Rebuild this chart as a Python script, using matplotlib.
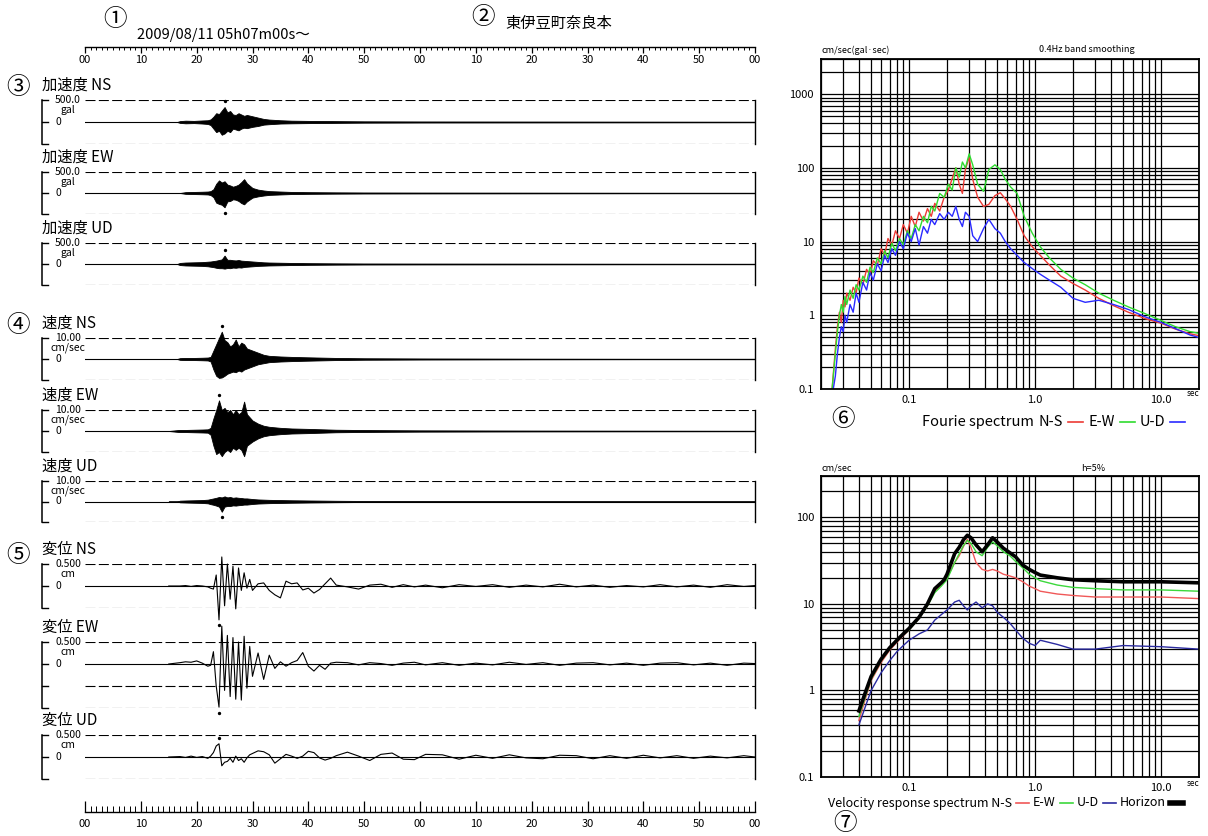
import numpy as np
import matplotlib.pyplot as plt
import matplotlib.transforms as mtransforms
from matplotlib.lines import Line2D
from matplotlib.ticker import FixedLocator, FixedFormatter, NullFormatter, LogLocator

# =========================================
# 1. Values
# =========================================
# time ruler (two minutes, labelled by second of the minute)
ruler_sec = [0, 10, 20, 30, 40, 50, 60, 70, 80, 90, 100, 110, 120]
ruler_labels = ["00", "10", "20", "30", "40", "50", "00", "10", "20", "30", "40", "50", "00"]

# envelope knots (s) for acceleration / velocity traces
env_t = [15, 16.5, 17, 18, 19.5, 21, 22, 22.5, 23, 23.5, 24, 24.5, 25, 25.5, 26, 26.5, 27,
         27.5, 28, 28.5, 29, 30, 31, 32, 33, 35, 37, 40, 45, 50, 60, 80, 100, 120]

# acceleration (gal), upper / lower envelope
acc_ns_hi = [0, 0, 20, 30, 25, 35, 40, 60, 120, 200, 180, 260, 340, 220, 250, 170, 160, 200, 170, 140,
             160, 130, 100, 70, 55, 40, 30, 25, 20, 15, 12, 10, 8, 6]
acc_ns_lo = [0, 0, -20, -30, -25, -35, -45, -70, -150, -230, -200, -290, -260, -200, -230, -150, -170, -190, -150, -130,
             -140, -110, -90, -60, -50, -35, -30, -25, -20, -15, -12, -10, -8, -6]
acc_ew_hi = [0, 0, 0, 20, 25, 30, 35, 45, 90, 220, 300, 250, 280, 200, 180, 150, 170, 200, 260, 330,
             230, 120, 80, 60, 45, 35, 25, 20, 15, 12, 10, 8, 6, 5]
acc_ew_lo = [0, 0, 0, -20, -25, -30, -35, -50, -100, -230, -260, -280, -340, -200, -190, -150, -160, -190, -240, -270,
             -200, -110, -80, -60, -45, -35, -25, -20, -15, -12, -10, -8, -6, -5]
acc_ud_hi = [0, 0, 25, 35, 40, 45, 55, 60, 70, 80, 95, 110, 200, 100, 100, 90, 85, 95, 80, 75,
             70, 60, 50, 40, 35, 30, 25, 20, 15, 12, 10, 8, 6, 5]
acc_ud_lo = [0, 0, -25, -35, -40, -45, -55, -65, -75, -90, -100, -100, -110, -95, -100, -85, -90, -80, -85, -70,
             -65, -55, -45, -40, -35, -30, -25, -20, -15, -12, -10, -8, -6, -5]

# velocity (cm/sec), upper / lower envelope
vel_ns_hi = [0, 0, 0.4, 0.5, 0.5, 0.6, 0.7, 1.0, 4, 7, 10, 13, 9, 8, 6, 7, 9.3, 6, 7.8, 7,
             5, 4, 3, 2, 1.5, 1.2, 1.0, 0.8, 0.5, 0.35, 0.25, 0.15, 0.1, 0.1]
vel_ns_lo = [0, 0, -0.4, -0.5, -0.5, -0.6, -0.7, -1.2, -5, -8, -9, -8.8, -8, -7, -6.5, -6, -6.3, -5.5, -6, -5,
             -4.5, -3.5, -2.5, -2, -1.5, -1.2, -1, -0.8, -0.5, -0.35, -0.25, -0.15, -0.1, -0.1]
vel_ew_hi = [0, 0.4, 0.5, 0.5, 0.6, 0.7, 0.8, 1.5, 6, 10, 14.6, 10, 11, 9, 10, 8, 10, 8, 9, 14,
             8, 5, 3.5, 2.5, 2, 1.5, 1.2, 1.0, 0.6, 0.45, 0.3, 0.2, 0.15, 0.1]
vel_ew_lo = [0, -0.4, -0.5, -0.5, -0.6, -0.7, -0.8, -1.8, -7, -11, -10, -12, -10, -9, -10, -8, -9, -8, -9, -12,
             -7, -5, -3.5, -2.5, -2, -1.5, -1.2, -1, -0.6, -0.45, -0.3, -0.2, -0.15, -0.1]
vel_ud_hi = [0, 0, 0.4, 0.5, 0.6, 0.7, 0.9, 1.2, 1.5, 1.8, 2.2, 2.0, 2.5, 2.0, 2.2, 1.8, 2.0, 1.8, 1.7, 1.5,
             1.5, 1.2, 1.0, 0.9, 0.8, 0.7, 0.6, 0.5, 0.35, 0.25, 0.2, 0.15, 0.1, 0.1]
vel_ud_lo = [0, 0, -0.4, -0.5, -0.6, -0.7, -0.9, -1.3, -1.6, -2.0, -2.5, -5.0, -2.5, -2.2, -2.2, -1.9, -2.0, -1.8, -1.7, -1.5,
             -1.5, -1.2, -1.0, -0.9, -0.8, -0.7, -0.6, -0.5, -0.35, -0.25, -0.2, -0.15, -0.1, -0.1]

# displacement (cm) samples
disp_t = [15, 17, 18, 19, 20, 21, 22, 22.5, 23, 23.5, 24, 24.5, 25, 25.5, 26, 26.5, 27, 27.5, 28, 28.5,
          29, 29.5, 30, 31, 32, 33, 34, 35, 36, 37, 38, 39, 40, 41, 42, 43, 44, 45, 47, 49,
          51, 53, 55, 57, 59, 61, 64, 67, 70, 73, 76, 79, 82, 85, 88, 91, 94, 97, 100, 103,
          106, 109, 112, 115, 118, 120]
disp_ns = [0, 0, 0.01, -0.01, 0.01, 0.0, -0.02, -0.05, -0.07, 0.25,
           -0.77, 0.66, -0.45, 0.5, -0.3, 0.45, -0.52, 0.41, -0.1, 0.3,
           -0.05, 0.15, -0.1, 0.05, 0.07, -0.1, -0.2, -0.27, 0.11, 0.05,
           0.07, -0.09, -0.05, -0.16, -0.08, 0.05, 0.18, 0.02, -0.02, -0.07,
           0.02, 0.04, -0.03, 0.03, -0.02, 0.02, -0.04, 0.03, -0.01, 0.03,
           -0.03, 0.02, -0.02, 0.04, -0.02, 0.02, -0.03, 0.01, -0.02, 0.03,
           -0.02, 0.02, -0.03, 0.03, -0.01, 0.01]
disp_ew = [0, 0.03, 0.05, 0.04, 0.07, 0.02, -0.05, -0.03, 0.28, -0.5,
           -0.98, 0.86, -0.6, 0.65, -0.74, 0.6, -0.8, 0.5, -0.82, 0.63,
           -0.55, 0.4, -0.28, 0.25, -0.35, 0.2, -0.1, 0.05, -0.05, 0.03,
           0.08, 0.26, -0.05, -0.16, -0.03, -0.12, 0.02, 0.04, 0.03, -0.02,
           0.03, 0.01, -0.03, 0.02, 0.04, -0.02, 0.03, -0.03, 0.02, -0.02,
           0.04, -0.01, 0.03, -0.03, 0.02, 0.03, -0.02, 0.02, -0.03, 0.02,
           0.03, -0.02, 0.02, -0.03, 0.02, 0.01]
disp_ud = [0, 0.01, -0.01, 0.02, -0.01, 0.01, -0.03, 0.02, 0.1, 0.25,
           0.3, -0.2, -0.12, -0.1, -0.03, -0.12, 0.02, -0.08, -0.04, -0.12,
           -0.02, 0.05, 0.08, 0.14, 0.12, 0.05, -0.14, -0.04, 0.06, 0.02,
           -0.03, 0.02, 0.13, 0.1, -0.02, -0.07, -0.03, 0.03, 0.11, 0.02,
           -0.08, 0.06, 0.09, -0.05, -0.06, 0.06, 0.05, -0.05, 0.04, -0.03,
           0.05, -0.02, -0.04, 0.04, 0.03, -0.04, 0.03, -0.03, 0.04, -0.02,
           0.03, -0.03, 0.02, -0.02, 0.03, 0.0]

# Fourier spectrum (period sec vs cm/sec)
fourier_period = [0.0245, 0.026, 0.027, 0.028, 0.029, 0.030, 0.031, 0.032, 0.034, 0.036,
                  0.038, 0.040, 0.043, 0.046, 0.049, 0.052, 0.056, 0.060, 0.064, 0.068,
                  0.073, 0.078, 0.084, 0.090, 0.097, 0.104, 0.112, 0.120, 0.13, 0.14,
                  0.15, 0.16, 0.175, 0.19, 0.205, 0.22, 0.235, 0.25, 0.265, 0.28,
                  0.30, 0.32, 0.35, 0.39, 0.43, 0.48, 0.53, 0.58, 0.64, 0.72,
                  0.82, 0.95, 1.1, 1.3, 1.6, 2.0, 2.5, 3.2, 4.2, 5.5,
                  7.5, 10, 13, 17, 20]
fourier_ns = [0.1, 0.35, 0.7, 1.1, 0.8, 1.6, 1.3, 2.0, 1.6, 2.4,
              2.0, 3.2, 2.6, 4.2, 3.5, 5.5, 4.8, 8.0, 6.5, 11,
              9, 14, 11, 17, 13, 22, 16, 25, 19, 28,
              22, 33, 26, 40, 50, 72, 100, 60, 45, 95,
              140, 70, 40, 30, 32, 42, 46, 38, 30, 20,
              12, 8.5, 6.5, 4.8, 3.4, 2.7, 2.2, 1.7, 1.35, 1.1,
              0.9, 0.78, 0.65, 0.56, 0.53]
fourier_ew = [0.1, 0.3, 0.6, 1.0, 1.4, 1.1, 1.8, 1.4, 2.2, 1.7,
              2.6, 2.2, 3.4, 2.8, 4.5, 3.8, 6.0, 5.0, 7.5, 6.0,
              9.5, 7.5, 11, 9, 14, 11, 17, 14, 22, 18,
              30, 26, 45, 40, 60, 50, 100, 75, 120, 100,
              155, 110, 60, 48, 95, 110, 95, 70, 55, 45,
              22, 13, 8.5, 6, 4.2, 3.2, 2.6, 2.0, 1.6, 1.3,
              1.05, 0.85, 0.7, 0.6, 0.57]
fourier_ud = [0.08, 0.15, 0.3, 0.5, 0.7, 0.6, 1.0, 0.8, 1.4, 1.1,
              2.0, 1.5, 2.8, 2.2, 3.8, 3.0, 5.0, 4.0, 6.5, 5.2,
              8, 6.5, 10, 8, 13, 10, 15, 9, 16, 13,
              20, 17, 24, 20, 25, 22, 30, 20, 16, 25,
              22, 12, 10, 15, 20, 15, 13, 10, 8, 6.5,
              5.2, 4.3, 3.6, 3.0, 2.4, 1.7, 1.5, 1.6, 1.4, 1.2,
              0.95, 0.8, 0.66, 0.54, 0.5]

# velocity response spectrum, h=5% (period sec vs cm/sec)
resp_period = [0.04, 0.045, 0.05, 0.06, 0.07, 0.08, 0.09, 0.1, 0.12, 0.14,
               0.16, 0.18, 0.19, 0.2, 0.23, 0.25, 0.27, 0.29, 0.31, 0.34,
               0.38, 0.42, 0.46, 0.5, 0.56, 0.63, 0.7, 0.8, 0.9, 1.0,
               1.1, 1.5, 2, 3, 5, 10, 20]
resp_ns = [0.45, 0.8, 1.3, 2.1, 2.9, 3.6, 4.3, 5.0, 6.8, 9.5,
           14, 16.5, 18, 20, 30, 36, 46, 56, 45, 30,
           25, 24, 25, 24, 22, 21, 20, 18, 16, 15,
           14, 13, 12.5, 12, 12, 12, 11.5]
resp_ew = [0.5, 0.85, 1.35, 2.2, 3.0, 3.7, 4.4, 5.0, 6.8, 9.5,
           13.5, 16, 17.5, 19, 30, 38, 47, 54, 50, 40,
           36, 45, 52, 47, 40, 36, 31, 26, 22, 20,
           18.5, 16.5, 15.5, 15, 14.5, 14.5, 14]
resp_ud = [0.4, 0.65, 1.0, 1.6, 2.2, 2.8, 3.3, 3.8, 4.5, 5.0,
           6.5, 7.5, 8.0, 8.5, 10.5, 11, 9.5, 8.5, 9.5, 10.5,
           9, 10, 9.5, 8.0, 7.0, 6.0, 5.0, 4.0, 3.5, 3.3,
           3.8, 3.4, 3.0, 3.0, 3.3, 3.2, 3.0]
resp_horizon = [0.58, 0.95, 1.45, 2.3, 3.1, 3.8, 4.5, 5.2, 7.0, 10,
                15, 17.5, 19, 22, 38, 45, 55, 62, 58, 48,
                40, 48, 58, 52, 44, 39, 35, 28, 25, 23,
                21.5, 20, 19, 18.5, 18, 18, 17.5]

spec_xticks = [0.1, 1.0, 10.0]
spec_xlabels = ["0.1", "1.0", "10.0"]
fourier_yticks = [0.1, 1, 10, 100, 1000]
fourier_ylabels = ["0.1", "1", "10", "100", "1000"]
resp_yticks = [0.1, 1, 10, 100]
resp_ylabels = ["0.1", "1", "10", "100"]

c_ns, c_ew, c_ud = '#ec3b35', '#2fdc2f', '#2a2aff'
c_rns, c_rew, c_rud = '#f05858', '#3cd83c', '#2b2ba0'

# =========================================
# 2. Figure set-up (pixel helpers)
# =========================================
plt.rcParams['font.family'] = ['Noto Sans CJK JP', 'DejaVu Sans']
W, H = 1208, 836
fig = plt.figure(figsize=(W / 100, H / 100), dpi=100)
renderer = fig.canvas.get_renderer()


def rect(x0, y0, x1, y1):
    return [x0 / W, 1 - y1 / H, (x1 - x0) / W, (y1 - y0) / H]


def put(x, y, s, **kw):
    kw.setdefault('va', 'center')
    return fig.text(x / W, 1 - y / H, s, **kw)


def key(x0, x1, y, color, lw):
    fig.add_artist(Line2D([x0 / W, x1 / W], [1 - y / H, 1 - y / H], color=color, lw=lw))


def legend_row(x, y, items, fontsize, gap=5):
    # items: strings or (colour, linewidth, length) keys, laid out left to right
    for it in items:
        if isinstance(it, str):
            t = put(x, y, it, fontsize=fontsize, ha='left')
            x += t.get_window_extent(renderer).width + gap
        else:
            color, lw, length = it
            key(x, x + length, y, color, lw)
            x += length + gap


# header
put(115, 20, "①", fontsize=17, ha='center')
put(137, 35, "2009/08/11 05h07m00s〜", fontsize=10.5, ha='left')
put(483, 17, "②", fontsize=17, ha='center')
put(505, 23, "東伊豆町奈良本", fontsize=11, ha='left')
put(18, 87, "③", fontsize=17, ha='center')
put(18, 326, "④", fontsize=17, ha='center')
put(18, 556, "⑤", fontsize=17, ha='center')

# =========================================
# 3. Time rulers
# =========================================
for y_line, direction, major_len, minor_len, pad in [(47, 'out', 4.5, 2.3, 1.5), (812, 'in', 8, 4, 5)]:
    ax = fig.add_axes(rect(85, y_line - 10, 755, y_line))
    ax.set_xlim(0, 120)
    ax.patch.set_visible(False)
    for s in ('top', 'left', 'right'):
        ax.spines[s].set_visible(False)
    ax.spines['bottom'].set_linewidth(1.0)
    ax.set_yticks([])
    ax.xaxis.set_major_locator(FixedLocator(ruler_sec))
    ax.xaxis.set_major_formatter(FixedFormatter(ruler_labels))
    ax.xaxis.set_minor_locator(FixedLocator(list(range(0, 121))))
    ax.tick_params(axis='x', which='major', direction=direction, length=major_len, width=0.9,
                   labelsize=8, pad=pad)
    ax.tick_params(axis='x', which='minor', direction=direction, length=minor_len, width=0.7)

# =========================================
# 4. Waveform panels
# =========================================
panels = [
    ("加速度 NS", 100, 144, [500, -500], "500.0", "gal", acc_ns_hi, acc_ns_lo, None),
    ("加速度 EW", 172, 214, [500, -500], "500.0", "gal", acc_ew_hi, acc_ew_lo, None),
    ("加速度 UD", 243, 285, [500, -500], "500.0", "gal", acc_ud_hi, acc_ud_lo, None),
    ("速度 NS", 338, 380, [10, -10], "10.00", "cm/sec", vel_ns_hi, vel_ns_lo, None),
    ("速度 EW", 410, 452, [10, -10], "10.00", "cm/sec", vel_ew_hi, vel_ew_lo, None),
    ("速度 UD", 481, 522, [10, -10], "10.00", "cm/sec", vel_ud_hi, vel_ud_lo, None),
    ("変位 NS", 564, 608, [0.5, -0.5], "0.500", "cm", None, None, disp_ns),
    ("変位 EW", 642, 708, [0.5, -0.5, -1.0], "0.500", "cm", None, None, disp_ew),
    ("変位 UD", 735, 779, [0.5, -0.5], "0.500", "cm", None, None, disp_ud),
]

bx, tx = -43 / 670, -37 / 670
for title, y0, y1, levels, lab, unit, hi, lo, line in panels:
    top, bot = max(levels), min(levels)
    ax = fig.add_axes(rect(85, y0, 755, y1))
    ax.set_xlim(0, 120)
    ax.set_ylim(bot, top)
    ax.axis('off')
    for lev in levels:
        ax.axhline(lev, color='k', lw=0.8, ls=(0, (9, 3)))
    ax.axhline(0, color='k', lw=0.8)
    ax.plot([120, 120], [bot, top], color='k', lw=1.0, clip_on=False)

    tr = mtransforms.blended_transform_factory(ax.transAxes, ax.transData)
    ax.plot([bx, bx], [bot, top], transform=tr, color='k', lw=1.1, clip_on=False)
    for lev in [0] + levels:
        ax.plot([bx, tx], [lev, lev], transform=tr, color='k', lw=1.0, clip_on=False)
    ax.text(-17 / 670, top, lab, transform=tr, ha='center', va='center', fontsize=7.5)
    ax.annotate(unit, xy=(-17 / 670, top), xycoords=tr, xytext=(0, -7), textcoords='offset points',
                ha='center', va='center', fontsize=7.5)
    ax.text(-27 / 670, 0, "0", transform=tr, ha='center', va='center', fontsize=7.5)
    ax.annotate(title, xy=(bx, top), xycoords=tr, xytext=(0, 10.5), textcoords='offset points',
                ha='left', va='center', fontsize=11)

    if line is None:
        ax.fill_between(env_t, lo, hi, facecolor='k', edgecolor='k', lw=0.6, clip_on=False)
        i_hi, i_lo = int(np.argmax(hi)), int(np.argmin(lo))
        if hi[i_hi] >= -lo[i_lo]:
            t_pk, v_pk, dy = env_t[i_hi], hi[i_hi], 4
        else:
            t_pk, v_pk, dy = env_t[i_lo], lo[i_lo], -4
    else:
        ax.plot(disp_t, line, color='k', lw=0.8, clip_on=False)
        i_pk = int(np.argmax(np.abs(line)))
        t_pk, v_pk = disp_t[i_pk], line[i_pk]
        dy = 4 if v_pk > 0 else -4
    off = mtransforms.offset_copy(ax.transData, fig=fig, y=dy, units='points')
    ax.plot([t_pk], [v_pk], 'o', color='k', ms=1.4, transform=off, clip_on=False)


# =========================================
# 5. Spectra
# =========================================
def spectrum_axes(y0, y1, ytop, yticks, ylabels):
    ax = fig.add_axes(rect(821, y0, 1199, y1))
    ax.set_xscale('log')
    ax.set_yscale('log')
    ax.set_xlim(0.02, 20)
    ax.set_ylim(0.1, ytop)
    ax.xaxis.set_major_locator(FixedLocator(spec_xticks))
    ax.xaxis.set_major_formatter(FixedFormatter(spec_xlabels))
    ax.yaxis.set_major_locator(FixedLocator(yticks))
    ax.yaxis.set_major_formatter(FixedFormatter(ylabels))
    for axis in (ax.xaxis, ax.yaxis):
        axis.set_minor_locator(LogLocator(base=10, subs=np.arange(2, 10), numticks=30))
        axis.set_minor_formatter(NullFormatter())
    ax.grid(True, which='both', color='k', lw=0.9)
    ax.set_axisbelow(True)
    ax.tick_params(which='both', length=0, labelsize=8)
    ax.tick_params(axis='x', pad=4)
    ax.tick_params(axis='y', pad=5)
    for sp in ax.spines.values():
        sp.set_linewidth(1.3)
    return ax


ax_f = spectrum_axes(59, 389, 3000, fourier_yticks, fourier_ylabels)
ax_f.plot(fourier_period, fourier_ns, color=c_ns, lw=1.0)
ax_f.plot(fourier_period, fourier_ew, color=c_ew, lw=1.0)
ax_f.plot(fourier_period, fourier_ud, color=c_ud, lw=1.0)
put(821, 50, "cm/sec(gal·sec)", fontsize=6.5, ha='left')
put(1039, 50, "0.4Hz band smoothing", fontsize=6.5, ha='left')
put(1193, 393, "sec", fontsize=6, ha='center')
put(843, 420, "⑥", fontsize=17, ha='center')
legend_row(922, 422, ["Fourie spectrum", "N-S", (c_ns, 1.2, 15), "E-W", (c_ew, 1.2, 15),
                      "U-D", (c_ud, 1.2, 15)], 10.5)

ax_r = spectrum_axes(476, 777, 300, resp_yticks, resp_ylabels)
ax_r.plot(resp_period, resp_ns, color=c_rns, lw=1.0)
ax_r.plot(resp_period, resp_ew, color=c_rew, lw=1.0)
ax_r.plot(resp_period, resp_ud, color=c_rud, lw=1.0)
ax_r.plot(resp_period, resp_horizon, color='k', lw=2.6)
put(821, 468, "cm/sec", fontsize=6.5, ha='left')
put(1081, 468, "h=5%", fontsize=6.5, ha='left')
put(1193, 783, "sec", fontsize=6, ha='center')
legend_row(828, 803, ["Velocity response spectrum N-S", (c_rns, 1.2, 13), "E-W", (c_rew, 1.2, 13),
                      "U-D", (c_rud, 1.2, 13), "Horizon", ('k', 4, 13)], 9, gap=4)
put(845, 823, "⑦", fontsize=17, ha='center')

fig.savefig("out.png", dpi=100)
